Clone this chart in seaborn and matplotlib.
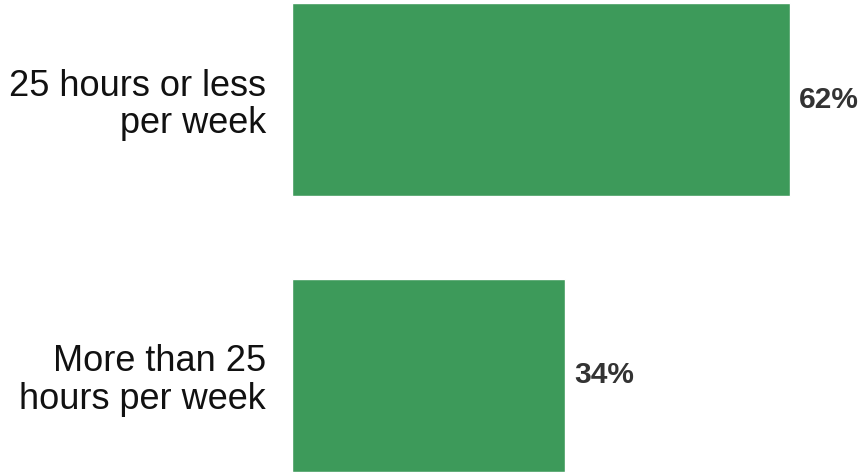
import matplotlib
matplotlib.use("Agg")
import matplotlib.pyplot as plt
import seaborn as sns
import pandas as pd

categories = ["25 hours or less\nper week", "More than 25\nhours per week"]
values = [62, 34]
value_labels = ["62%", "34%"]

df = pd.DataFrame({"category": categories, "value": values})

sns.set_theme(style="white")
plt.rcParams["font.family"] = ["Liberation Sans", "DejaVu Sans"]

fig = plt.figure(figsize=(8.61, 4.72), dpi=100)
ax = fig.add_axes([292 / 861, 0, 569 / 861, 1])

sns.barplot(data=df, x="value", y="category", orient="h", color="#3d9a5a",
            saturation=1, width=0.7, ax=ax)

ax.set_xlim(0, 70.9)
ax.set_ylim(1.35, -0.361)
for s in ax.spines.values():
    s.set_visible(False)
ax.set_xticks([])
ax.set_xlabel("")
ax.set_ylabel("")
ax.tick_params(axis="y", length=0, pad=18.7)
for lab in ax.get_yticklabels():
    lab.set_fontsize(26)
    lab.set_color("#111111")
    lab.set_horizontalalignment("right")
    lab.set_multialignment("right")
    lab.set_linespacing(1.1)

for i, (v, t) in enumerate(zip(values, value_labels)):
    ax.annotate(t, xy=(v, i), xytext=(6.5, 0), textcoords="offset points",
                ha="left", va="center", fontsize=21.5, fontweight="bold", color="#333333")

fig.savefig("out.png", dpi=100)
